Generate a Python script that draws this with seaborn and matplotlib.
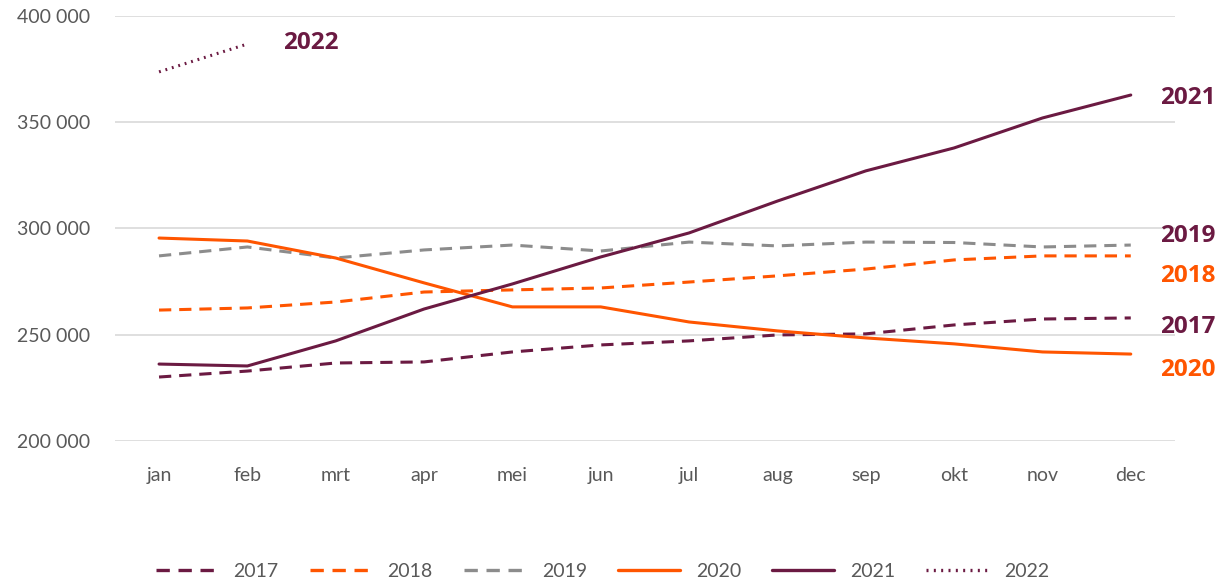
import pandas as pd
import numpy as np
import matplotlib
import seaborn as sns
matplotlib.use('Agg')
import matplotlib.pyplot as plt
from matplotlib.lines import Line2D
from matplotlib.ticker import FuncFormatter

months = ['jan', 'feb', 'mrt', 'apr', 'mei', 'jun', 'jul', 'aug', 'sep', 'okt', 'nov', 'dec']
years = ['2017', '2018', '2019', '2020', '2021', '2022']

v2017 = [230100, 232900, 236700, 237200, 241900, 245200, 247100, 249900, 250400, 254600, 257400, 257900]
v2018 = [261600, 262600, 265400, 270100, 271100, 272000, 274800, 277700, 280900, 285200, 287100, 287100]
v2019 = [287100, 291300, 286100, 289900, 292200, 289400, 293600, 291800, 293600, 293400, 291300, 292200]
v2020 = [295500, 294100, 286100, 274400, 263100, 263100, 256000, 251800, 248500, 245700, 241900, 240900]
v2021 = [236200, 235300, 247100, 262100, 273900, 286600, 297900, 312900, 327100, 337900, 352000, 362800]
v2022 = [373700, 386800]

values = {'2017': v2017, '2018': v2018, '2019': v2019, '2020': v2020, '2021': v2021, '2022': v2022}

purple = '#6B1A42'
orange = '#FF5500'
grey = '#8C8C8C'
colors = {'2017': purple, '2018': orange, '2019': grey, '2020': orange, '2021': purple, '2022': purple}
dashes = {'2017': (4, 2.6), '2018': (4, 2.6), '2019': (4, 2.6), '2020': '', '2021': '', '2022': (0.6, 1.6)}

rows = []
for y in years:
    for i, v in enumerate(values[y]):
        rows.append({'month': i, 'year': y, 'value': v})
df = pd.DataFrame(rows)

sns.set_style('white')
plt.rcParams['font.family'] = ['Lato', 'DejaVu Sans']

fig = plt.figure(figsize=(12.22, 5.83), dpi=100)
ax = fig.add_axes([0.094, 0.2436, 0.8675, 0.729])

sns.lineplot(data=df, x='month', y='value', hue='year', style='year', palette=colors,
             dashes=dashes, linewidth=2.2, legend=False, ax=ax)

ax.set_xlim(-0.5, 11.5)
ax.set_ylim(200000, 400000)
ax.set_yticks(np.arange(200000, 400001, 50000))
ax.yaxis.set_major_formatter(FuncFormatter(lambda v, p: f'{int(v):,}'.replace(',', ' ')))
ax.set_xticks(range(12))
ax.set_xticklabels(months)
ax.tick_params(axis='x', labelsize=14, labelcolor='#595959', length=0, pad=19)
ax.tick_params(axis='y', labelsize=14, labelcolor='#595959', length=0, pad=18)
ax.grid(axis='y', color='#D9D9D9', linewidth=1.2)
ax.set_axisbelow(True)
for s in ax.spines.values():
    s.set_visible(False)
ax.set_xlabel('')
ax.set_ylabel('')

# end labels
bold = ['Open Sans', 'DejaVu Sans']
end_labels = [('2021', 361400, purple), ('2019', 296500, purple), ('2018', 277700, orange),
              ('2017', 253700, purple), ('2020', 233400, orange)]
for txt, yv, c in end_labels:
    ax.text(11.33, yv, txt, color=c, fontsize=17.5, fontweight='bold', family=bold,
            va='center', ha='left')
ax.text(1.4, 387300, '2022', color=purple, fontsize=17.5, fontweight='bold', family=bold,
        va='center', ha='left')

handles = []
for y in years:
    d = dashes[y]
    h = Line2D([], [], color=colors[y], linewidth=2.4)
    if d:
        h.set_dashes(d)
    handles.append(h)
fig.legend(handles, years, loc='lower center', ncol=6, frameon=False, fontsize=14,
           handlelength=3.2, columnspacing=1.6, handletextpad=0.8,
           bbox_to_anchor=(0.493, -0.025), labelcolor='#595959')

plt.savefig('out.png', dpi=100)
